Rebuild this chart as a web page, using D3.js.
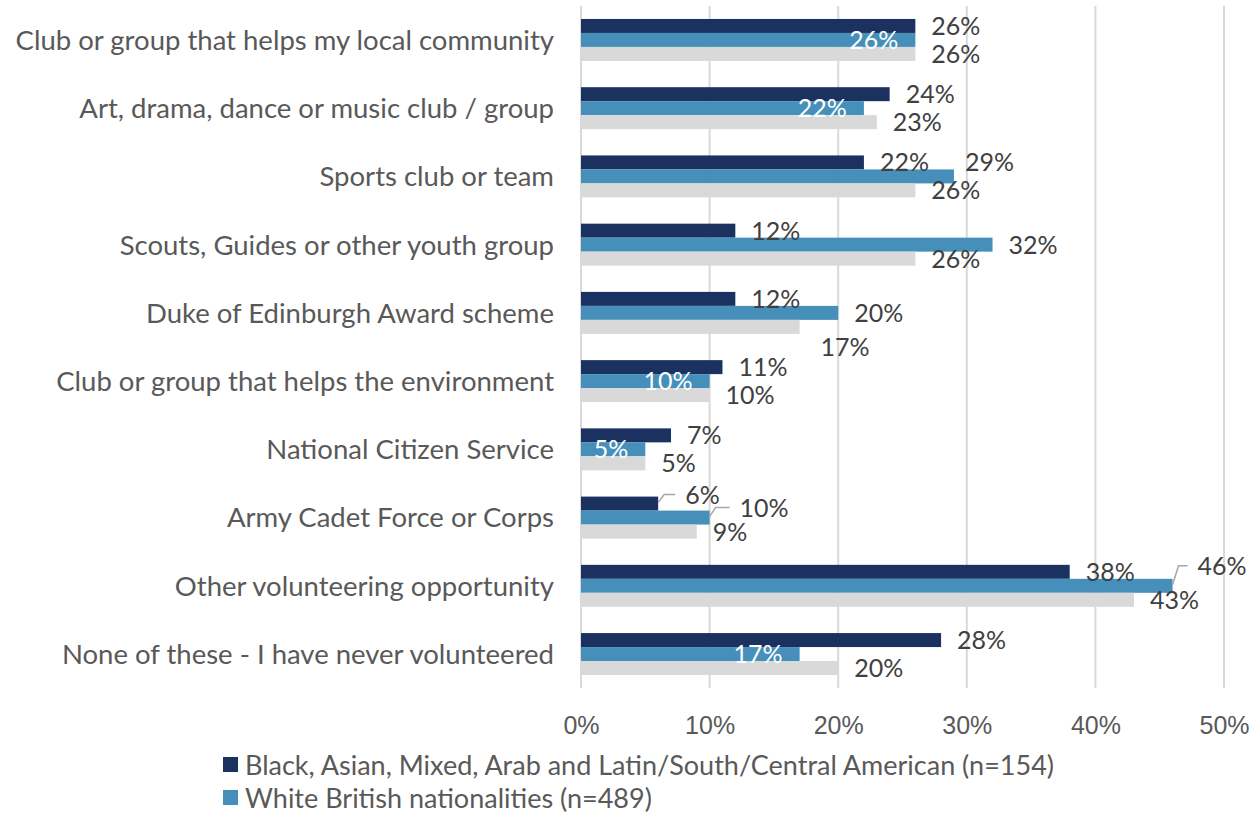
<!DOCTYPE html>
<html>
<head>
<meta charset="utf-8">
<script src="https://cdn.jsdelivr.net/npm/d3@7.9.0/dist/d3.min.js"></script>
<style>
  body { margin: 0; background: #fff; }
  svg { display: block; font-family: Lato, "Open Sans", sans-serif; }
</style>
</head>
<body>
<svg id="chart" width="1253" height="813"></svg>
<script>
// categories, top to bottom
const categories = [
  "Club or group that helps my local community",
  "Art, drama, dance or music club / group",
  "Sports club or team",
  "Scouts, Guides or other youth group",
  "Duke of Edinburgh Award scheme",
  "Club or group that helps the environment",
  "National Citizen Service",
  "Army Cadet Force or Corps",
  "Other volunteering opportunity",
  "None of these - I have never volunteered"
];

const seriesNames = [
  "Black, Asian, Mixed, Arab and Latin/South/Central American (n=154)",
  "White British nationalities (n=489)",
  ""
];

// percentages per series
const minorityEthnic = [26, 24, 22, 12, 12, 11, 7, 6, 38, 28];
const whiteBritish   = [26, 22, 29, 32, 20, 10, 5, 10, 46, 17];
const thirdGroup     = [26, 23, 26, 26, 17, 10, 5, 9, 43, 20];

const xTicks = [0, 10, 20, 30, 40, 50];

const colors = ["#1b3160", "#458fba", "#d9d9d9"];

// label tweaks (row, series) -> how the label is placed
const insideLabels = new Set(["0-1", "1-1", "5-1", "6-1", "9-1"]);
const labelNudge = {
  "2-1": { dx: 11, dy: -14 },
  "4-2": { dx: 21, dy: 20 },
  "7-0": { dx: 27, dy: -9, leader: true },
  "7-1": { dx: 30, dy: -10, leader: true },
  "8-1": { dx: 25, dy: -20, leader: true }
};

const svg = d3.select("#chart");
const margin = { top: 6, left: 581, right: 29, bottom: 125 };
const width = 1253 - margin.left - margin.right;
const height = 813 - margin.top - margin.bottom;

const series = [minorityEthnic, whiteBritish, thirdGroup];

const x = d3.scaleLinear().domain([0, 50]).range([0, width]);
const y = d3.scaleBand().domain(categories).range([0, height]).paddingInner(0.385).paddingOuter(0.19);
const ySub = d3.scaleBand().domain([0, 1, 2]).range([0, y.bandwidth()]);

const g = svg.append("g").attr("transform", `translate(${margin.left},${margin.top})`);

// gridlines
g.selectAll(".grid")
  .data(xTicks)
  .join("line")
  .attr("x1", d => x(d)).attr("x2", d => x(d))
  .attr("y1", 0).attr("y2", height)
  .attr("stroke", "#d9d9d9")
  .attr("stroke-width", 2);

// bars
categories.forEach((cat, i) => {
  series.forEach((vals, s) => {
    g.append("rect")
      .attr("x", x(0))
      .attr("y", y(cat) + ySub(s))
      .attr("width", x(vals[i]) - x(0))
      .attr("height", ySub.bandwidth())
      .attr("fill", colors[s]);
  });
});

// data labels
categories.forEach((cat, i) => {
  series.forEach((vals, s) => {
    const key = `${i}-${s}`;
    const end = x(vals[i]);
    const cy = y(cat) + ySub(s) + ySub.bandwidth() / 2;
    if (insideLabels.has(key)) {
      g.append("text")
        .attr("x", end - 17).attr("y", cy)
        .attr("text-anchor", "end")
        .attr("dy", "0.36em")
        .attr("fill", "#fff")
        .attr("font-size", 25)
        .text(vals[i] + "%");
      return;
    }
    const n = labelNudge[key] || { dx: 16, dy: 0 };
    if (n.leader) {
      const ly = cy + n.dy;
      g.append("path")
        .attr("d", `M${end},${cy - 1}L${end + 6},${ly}L${end + n.dx - 10},${ly}`)
        .attr("fill", "none")
        .attr("stroke", "#a6a6a6")
        .attr("stroke-width", 1.5);
    }
    g.append("text")
      .attr("x", end + n.dx).attr("y", cy + n.dy)
      .attr("dy", "0.36em")
      .attr("fill", "#404040")
      .attr("font-size", 25)
      .text(vals[i] + "%");
  });
});

// category axis labels
g.selectAll(".cat")
  .data(categories)
  .join("text")
  .attr("x", -27)
  .attr("y", d => y(d) + y.bandwidth() / 2)
  .attr("dy", "0.36em")
  .attr("text-anchor", "end")
  .attr("fill", "#595959")
  .attr("font-size", 27.5)
  .text(d => d);

// x axis tick labels
const xAxis = d3.axisBottom(x).tickValues(xTicks).tickFormat(d => d + "%").tickSize(0).tickPadding(0);
const ax = g.append("g").attr("transform", `translate(0,${height})`).call(xAxis);
ax.select(".domain").remove();
ax.selectAll("text")
  .attr("y", 37)
  .attr("dy", "0.36em")
  .attr("fill", "#595959")
  .attr("font-size", 25)
  .attr("font-family", null);

// legend (third entry is cut off at the bottom edge)
const legend = svg.append("g").attr("transform", "translate(223,765)");
seriesNames.forEach((name, s) => {
  const row = legend.append("g").attr("transform", `translate(0,${s * 33})`);
  row.append("rect").attr("x", 0).attr("y", -8).attr("width", 15).attr("height", 15).attr("fill", colors[s]);
  row.append("text").attr("x", 22).attr("y", 0).attr("dy", "0.36em")
    .attr("fill", "#595959").attr("font-size", 27).text(name);
});
</script>
</body>
</html>
